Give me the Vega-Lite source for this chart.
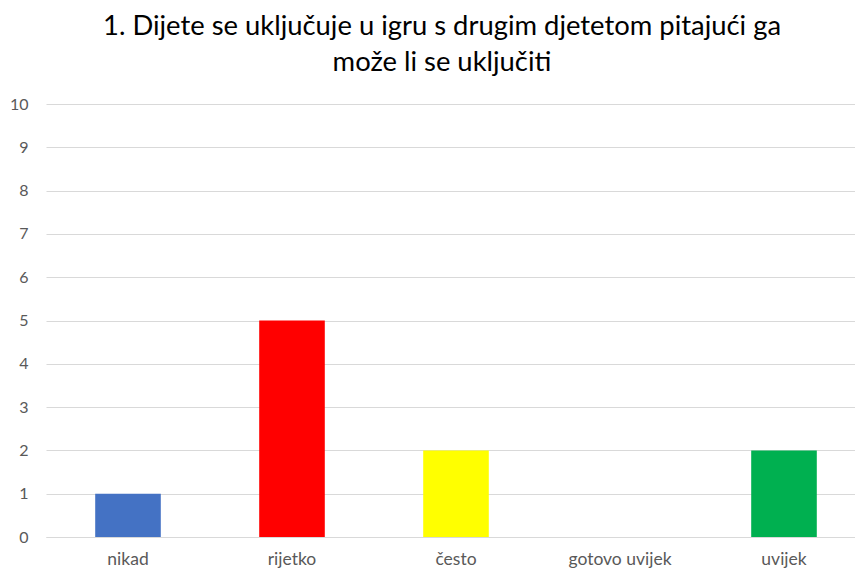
{
  "$schema": "https://vega.github.io/schema/vega-lite/v6.json",
  "width": 820,
  "height": 433,
  "autosize": {"type": "none"},
  "padding": {"left": 46, "top": 104, "right": 0, "bottom": 32},
  "background": "white",
  "title": {
    "text": ["1. Dijete se uključuje u igru s drugim djetetom pitajući ga", "može li se uključiti"],
    "font": "Lato",
    "fontSize": 27.4,
    "fontWeight": "normal",
    "color": "#000000",
    "anchor": "middle",
    "frame": "group",
    "lineHeight": 36,
    "offset": 20,
    "dx": -14
  },
  "data": {
    "values": [
      {"kategorija": "nikad", "broj": 1, "boja": "#4472C4"},
      {"kategorija": "rijetko", "broj": 5, "boja": "#FF0000"},
      {"kategorija": "često", "broj": 2, "boja": "#FFFF00"},
      {"kategorija": "gotovo uvijek", "broj": 0, "boja": "#FFC000"},
      {"kategorija": "uvijek", "broj": 2, "boja": "#00B050"}
    ]
  },
  "mark": {"type": "bar"},
  "encoding": {
    "x": {
      "field": "kategorija",
      "type": "nominal",
      "sort": null,
      "scale": {"paddingInner": 0.6, "paddingOuter": 0.3},
      "axis": {
        "title": null,
        "labelAngle": 0,
        "ticks": false,
        "domainColor": "#D9D9D9",
        "domainWidth": 1,
        "labelFont": "Lato",
        "labelFontSize": 17.5,
        "labelColor": "#595959",
        "labelPadding": 13
      }
    },
    "y": {
      "field": "broj",
      "type": "quantitative",
      "scale": {"domain": [0, 10]},
      "axis": {
        "title": null,
        "values": [0, 1, 2, 3, 4, 5, 6, 7, 8, 9, 10],
        "domain": false,
        "ticks": false,
        "gridColor": "#D9D9D9",
        "gridWidth": 1,
        "labelFont": "Lato",
        "labelFontSize": 16,
        "labelColor": "#595959",
        "labelPadding": 18
      }
    },
    "color": {"field": "boja", "type": "nominal", "scale": null, "legend": null}
  },
  "config": {"view": {"stroke": null}}
}
